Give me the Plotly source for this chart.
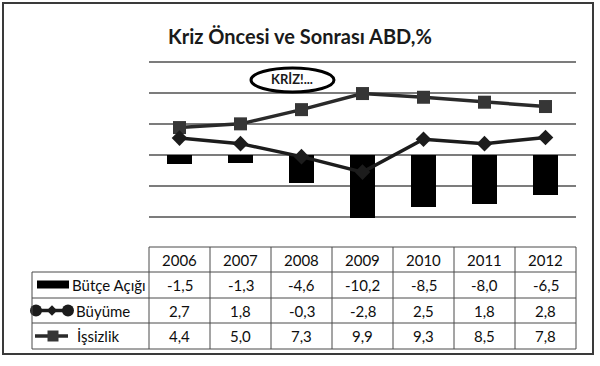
import plotly.graph_objects as go

# ---- data ----
years = ["2006", "2007", "2008", "2009", "2010", "2011", "2012"]
butce_acigi = [-1.5, -1.3, -4.6, -10.2, -8.5, -8.0, -6.5]
buyume = [2.7, 1.8, -0.3, -2.8, 2.5, 1.8, 2.8]
issizlik = [4.4, 5.0, 7.3, 9.9, 9.3, 8.5, 7.8]
series_names = ["Bütçe Açığı", "Büyüme", "İşsizlik"]
title_text = "Kriz Öncesi ve Sonrası ABD,%"
note_text = "KRİZ!..."

W, H = 600, 366
FONT = "Lato"
TXT = "#0e0e0e"

# layout geometry (pixels)
PX_L, PX_R = 149, 576          # plot / table columns
Y_MIN, Y_MAX = -12, 15.5
PY_B = 229                     # pixel of Y_MIN
PX_PER_UNIT = 167 / 27
PY_T = PY_B - (Y_MAX - Y_MIN) * PX_PER_UNIT
COL_W = (PX_R - PX_L) / len(years)
TBL_L = 32
ROW_Y = [247, 272, 298, 323, 349]

fig = go.Figure()

fig.add_trace(go.Bar(x=years, y=butce_acigi, name=series_names[0],
                     marker=dict(color="black", line=dict(width=0)), width=0.41))
fig.add_trace(go.Scatter(x=years, y=issizlik, name=series_names[2], mode="lines+markers",
                         line=dict(color="#2a2a2a", width=3.5),
                         marker=dict(symbol="square", size=13, color="#363636")))
fig.add_trace(go.Scatter(x=years, y=buyume, name=series_names[1], mode="lines+markers",
                         line=dict(color="#1c1c1c", width=3.5),
                         marker=dict(symbol="diamond", size=12, color="#1c1c1c")))

# legend symbols inside the table (pixel overlay axes)
r1 = (ROW_Y[1] + ROW_Y[2]) / 2
r2 = (ROW_Y[2] + ROW_Y[3]) / 2
r3 = (ROW_Y[3] + ROW_Y[4]) / 2
fig.add_trace(go.Scatter(x=[36, 68], y=[r2, r2], xaxis="x2", yaxis="y2", mode="lines+markers",
                         line=dict(color="#1c1c1c", width=3.5),
                         marker=dict(symbol="circle", size=12, color="#1c1c1c"), hoverinfo="skip"))
fig.add_trace(go.Scatter(x=[52], y=[r2], xaxis="x2", yaxis="y2", mode="markers",
                         marker=dict(symbol="diamond", size=8, color="#1c1c1c"), hoverinfo="skip"))
fig.add_trace(go.Scatter(x=[35, 68], y=[r3, r3], xaxis="x2", yaxis="y2", mode="lines",
                         line=dict(color="#2a2a2a", width=3.5), hoverinfo="skip"))
fig.add_trace(go.Scatter(x=[53], y=[r3], xaxis="x2", yaxis="y2", mode="markers",
                         marker=dict(symbol="square", size=11, color="#363636"), hoverinfo="skip"))

shapes = []
# outer frame
shapes.append(dict(type="rect", xref="x2", yref="y2", x0=3, x1=593, y0=3, y1=354,
                   line=dict(color="#3a3a3a", width=2), fillcolor="rgba(0,0,0,0)", layer="below"))
# bar legend swatch
shapes.append(dict(type="rect", xref="x2", yref="y2", x0=37, x1=69, y0=r1 - 4.5, y1=r1 + 3.5,
                   line=dict(width=0), fillcolor="black"))
# ellipse
shapes.append(dict(type="circle", xref="x2", yref="y2", x0=251, x1=334, y0=68, y1=92,
                   line=dict(color="black", width=3), fillcolor="white"))
# table lines
LC = "#4a4a4a"
shapes.append(dict(type="line", xref="x2", yref="y2", x0=PX_L, x1=PX_R, y0=ROW_Y[0], y1=ROW_Y[0],
                   line=dict(color=LC, width=1)))
for yy in ROW_Y[1:]:
    shapes.append(dict(type="line", xref="x2", yref="y2", x0=TBL_L, x1=PX_R, y0=yy, y1=yy,
                       line=dict(color=LC, width=1)))
shapes.append(dict(type="line", xref="x2", yref="y2", x0=TBL_L, x1=TBL_L, y0=ROW_Y[1], y1=ROW_Y[4],
                   line=dict(color=LC, width=1)))
for k in range(len(years) + 1):
    xx = PX_L + k * COL_W
    shapes.append(dict(type="line", xref="x2", yref="y2", x0=xx, x1=xx, y0=ROW_Y[0], y1=ROW_Y[4],
                       line=dict(color=LC, width=1)))

annotations = []
annotations.append(dict(text="<b>" + title_text + "</b>", xref="x2", yref="y2", x=300, y=36,
                        showarrow=False, font=dict(family=FONT, size=20, color="#1a1a1a"),
                        xanchor="center", yanchor="middle"))
annotations.append(dict(text="<b>" + note_text + "</b>", xref="x2", yref="y2", x=292, y=79,
                        showarrow=False, font=dict(family=FONT, size=13, color="#1a1a1a"),
                        xanchor="center", yanchor="middle"))


def fmt(v):
    return f"{v:.1f}".replace(".", ",")


hy = (ROW_Y[0] + ROW_Y[1]) / 2
for i, yr in enumerate(years):
    cx = PX_L + (i + 0.5) * COL_W
    annotations.append(dict(text=yr, xref="x2", yref="y2", x=cx, y=hy, showarrow=False,
                            font=dict(family=FONT, size=15, color=TXT)))
    for vals, ry in ((butce_acigi, r1), (buyume, r2), (issizlik, r3)):
        annotations.append(dict(text=fmt(vals[i]), xref="x2", yref="y2", x=cx, y=ry, showarrow=False,
                                font=dict(family=FONT, size=15, color=TXT)))
for name, ry, lx in ((series_names[0], r1, 70), (series_names[1], r2, 74), (series_names[2], r3, 75)):
    annotations.append(dict(text=name, xref="x2", yref="y2", x=lx, y=ry, showarrow=False,
                            xanchor="left", font=dict(family=FONT, size=15, color=TXT)))

fig.update_layout(
    width=W, height=H,
    margin=dict(l=0, r=0, t=0, b=0, pad=0),
    paper_bgcolor="white", plot_bgcolor="rgba(0,0,0,0)",
    showlegend=False,
    xaxis=dict(domain=[PX_L / W, PX_R / W], range=[-0.5, 6.5], type="category",
               showticklabels=False, showgrid=False, zeroline=False, showline=False, ticks=""),
    yaxis=dict(domain=[1 - PY_B / H, 1 - PY_T / H], range=[Y_MIN, Y_MAX], tick0=0, dtick=5,
               showticklabels=False, showgrid=True, gridcolor="#7c7c7c", gridwidth=1.5,
               zeroline=True, zerolinecolor="#7c7c7c", zerolinewidth=1.5, showline=False, ticks=""),
    xaxis2=dict(domain=[0, 1], range=[0, W], anchor="y2", visible=False, fixedrange=True),
    yaxis2=dict(domain=[0, 1], range=[H, 0], anchor="x2", visible=False, fixedrange=True),
    shapes=shapes, annotations=annotations, bargap=0,
)

fig.write_html("out.html", config={"displayModeBar": False},
               post_script="document.body.style.margin='0px';document.body.style.overflow='hidden';")
